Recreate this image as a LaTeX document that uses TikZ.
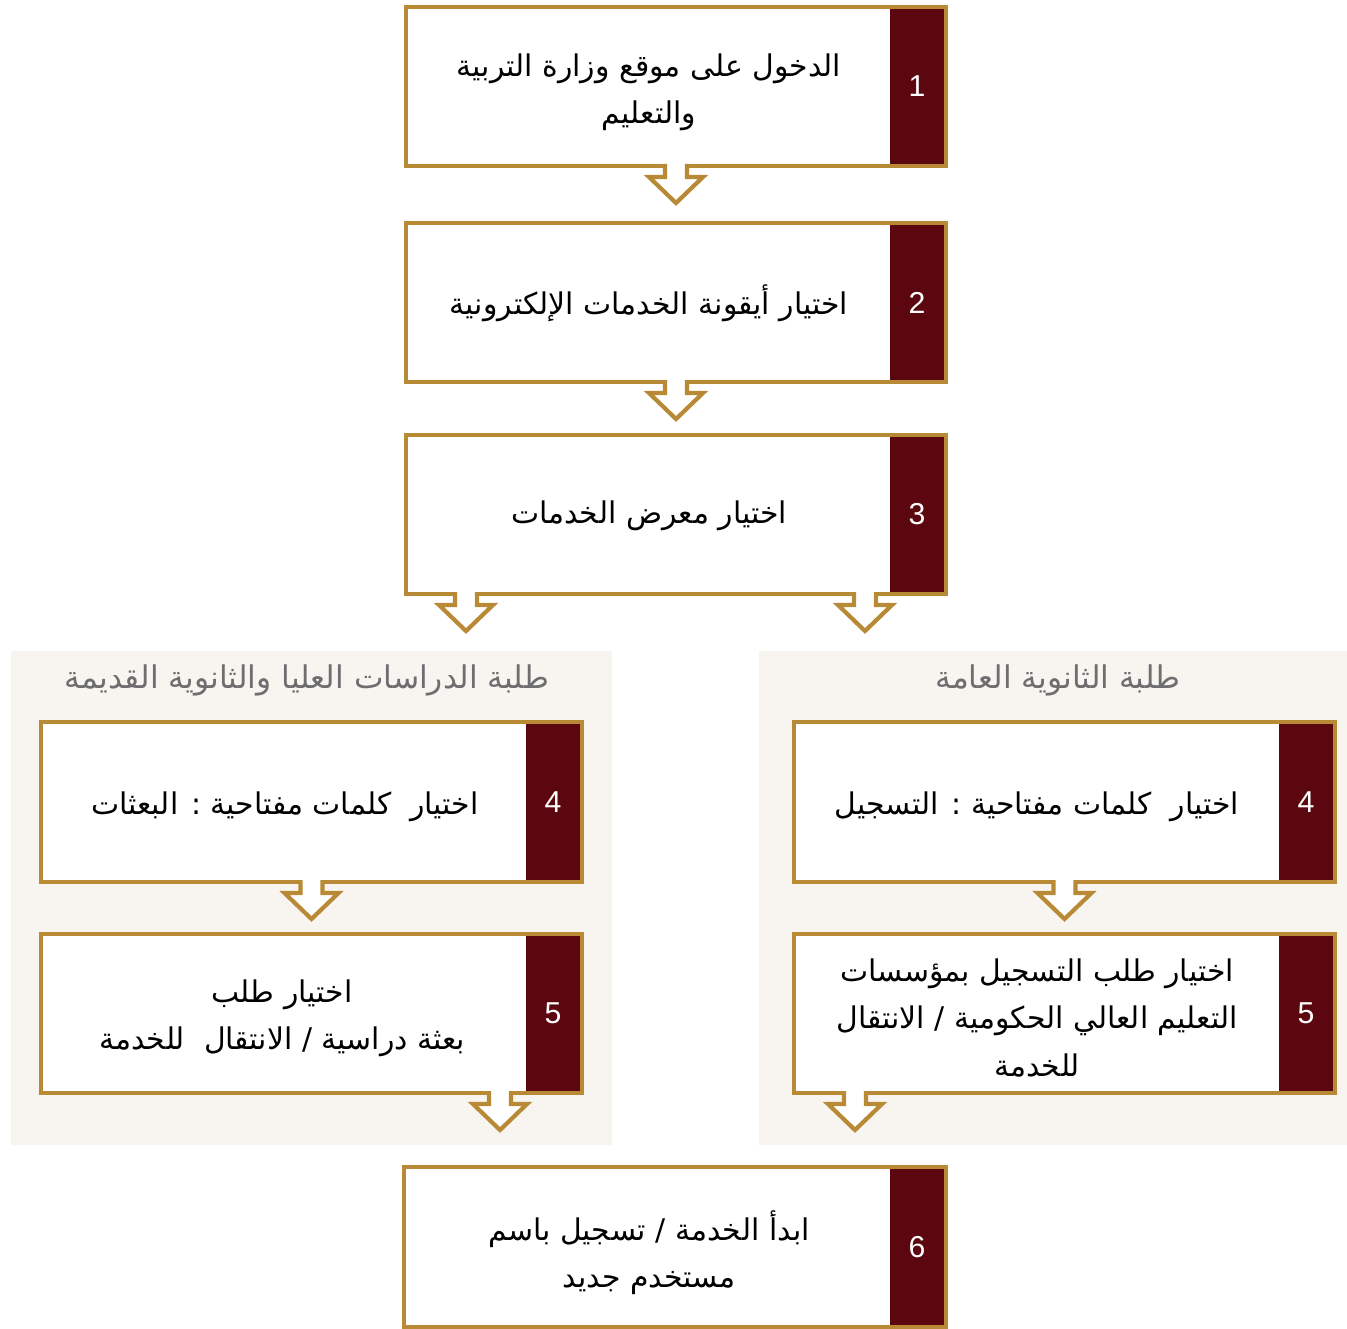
\documentclass[tikz,border=0pt]{standalone}
\usepackage{fontspec}
\setmainfont{Liberation Sans}
\newfontfamily\arabicfont[Script=Arabic]{DejaVu Sans}
\TeXXeTstate=1
\usetikzlibrary{fit,calc}
\definecolor{gold}{HTML}{B88A36}
\definecolor{maroon}{HTML}{5C0610}
\definecolor{panelbg}{HTML}{F8F5F0}
\definecolor{titlegray}{HTML}{6E6E70}
\tikzset{
 stepbox/.style={draw=gold, line width=0.21cm, fill=white, rectangle, inner sep=0pt, outer sep=0pt},
 strip/.style={fill=maroon, draw=none, rectangle, inner sep=0pt, outer sep=0pt},
 numtext/.style={text=white, font=\fontsize{43}{50}\selectfont, inner sep=0pt},
 steptext/.style={align=center, font=\arabicfont\fontsize{42.5}{67}\selectfont, text=black, inner sep=0pt},
 paneltitle/.style={font=\arabicfont\fontsize{44.5}{67}\selectfont, text=titlegray, inner sep=0pt},
 panel/.style={fill=panelbg, draw=none, rectangle, inner sep=0pt, outer sep=0pt},
 arrowline/.style={draw=gold, line width=0.21cm, fill=white, line join=miter},
 downarrow/.pic={
   \fill[white] (-9,-2.2) rectangle (9,11);
   \filldraw[arrowline] (-11,-2) -- (-11,11) -- (-27,11) -- (0,37) -- (27,11) -- (11,11) -- (11,-2);
 }
}
\begin{document}
\begin{tikzpicture}[x=0.05cm,y=-0.05cm]
\useasboundingbox (0,0) rectangle (1347,1329);
% panels
\node[panel, fit={(11,651) (612,1145)}] (lp) {};
\node[panel, fit={(759,651) (1347,1145)}] (rp) {};
\node[paneltitle] (lt) at (307,680) {\beginR طلبة الدراسات العليا والثانوية القديمة\endR};
\node[paneltitle] (rt) at (1058,680) {\beginR طلبة الثانوية العامة\endR};
% box 1
\node[stepbox, fit={(406,7) (946,166)}] (b1) {};
\node[strip, fit={(890,9) (944,164)}] (s1) {};
\node[numtext] (n1) at (s1.center) {1};
\node[steptext] (t1) at (649,92) {\beginR الدخول على موقع وزارة التربية\endR\\\beginR والتعليم\endR};
\pic at (b1.south) {downarrow};
% box 2
\node[stepbox, fit={(406,223) (946,382)}] (b2) {};
\node[strip, fit={(890,225) (944,380)}] (s2) {};
\node[numtext] (n2) at (s2.center) {2};
\node[steptext] (t2) at (649,303) {\beginR اختيار أيقونة الخدمات الإلكترونية\endR};
\pic at (b2.south) {downarrow};
% box 3
\node[stepbox, fit={(406,435) (946,594)}] (b3) {};
\node[strip, fit={(890,437) (944,592)}] (s3) {};
\node[numtext] (n3) at (s3.center) {3};
\node[steptext] (t3) at (649,516) {\beginR اختيار معرض الخدمات\endR};
\pic at ($(b3.south)+(-210,0)$) {downarrow};
\pic at ($(b3.south)+(189,0)$) {downarrow};
% left 4
\node[stepbox, fit={(41,722) (582,882)}] (l4) {};
\node[strip, fit={(526,724) (580,880)}] (sl4) {};
\node[numtext] (nl4) at (sl4.center) {4};
\node[steptext] (tl4) at (285,807) {\beginR اختيار\ \ كلمات مفتاحية : البعثات\endR};
\pic at (l4.south) {downarrow};
% left 5
\node[stepbox, fit={(41,934) (582,1093)}] (l5) {};
\node[strip, fit={(526,936) (580,1091)}] (sl5) {};
\node[numtext] (nl5) at (sl5.center) {5};
\node[steptext] (tl5) at (282,1018) {\beginR اختيار طلب\endR\\\beginR بعثة دراسية / الانتقال\ \ للخدمة\endR};
\pic at ($(l5.south)+(188.5,0)$) {downarrow};
% right 4
\node[stepbox, fit={(794,722) (1335,882)}] (r4) {};
\node[strip, fit={(1279,724) (1333,880)}] (sr4) {};
\node[numtext] (nr4) at (sr4.center) {4};
\node[steptext] (tr4) at (1037,807) {\beginR اختيار\ \ كلمات مفتاحية : التسجيل\endR};
\pic at (r4.south) {downarrow};
% right 5
\node[stepbox, fit={(794,934) (1335,1093)}] (r5) {};
\node[strip, fit={(1279,936) (1333,1091)}] (sr5) {};
\node[numtext] (nr5) at (sr5.center) {5};
\node[steptext] (tr5) at (1037,1018) {\beginR اختيار طلب التسجيل بمؤسسات\endR\\\beginR التعليم العالي الحكومية / الانتقال\endR\\\beginR للخدمة\endR};
\pic at ($(r5.south)+(-209.5,0)$) {downarrow};
% box 6
\node[stepbox, fit={(404,1167) (946,1327)}] (b6) {};
\node[strip, fit={(890,1169) (944,1325)}] (s6) {};
\node[numtext] (n6) at (s6.center) {6};
\node[steptext] (t6) at (649,1253) {\beginR ابدأ الخدمة / تسجيل باسم\endR\\\beginR مستخدم جديد\endR};
\end{tikzpicture}
\end{document}
